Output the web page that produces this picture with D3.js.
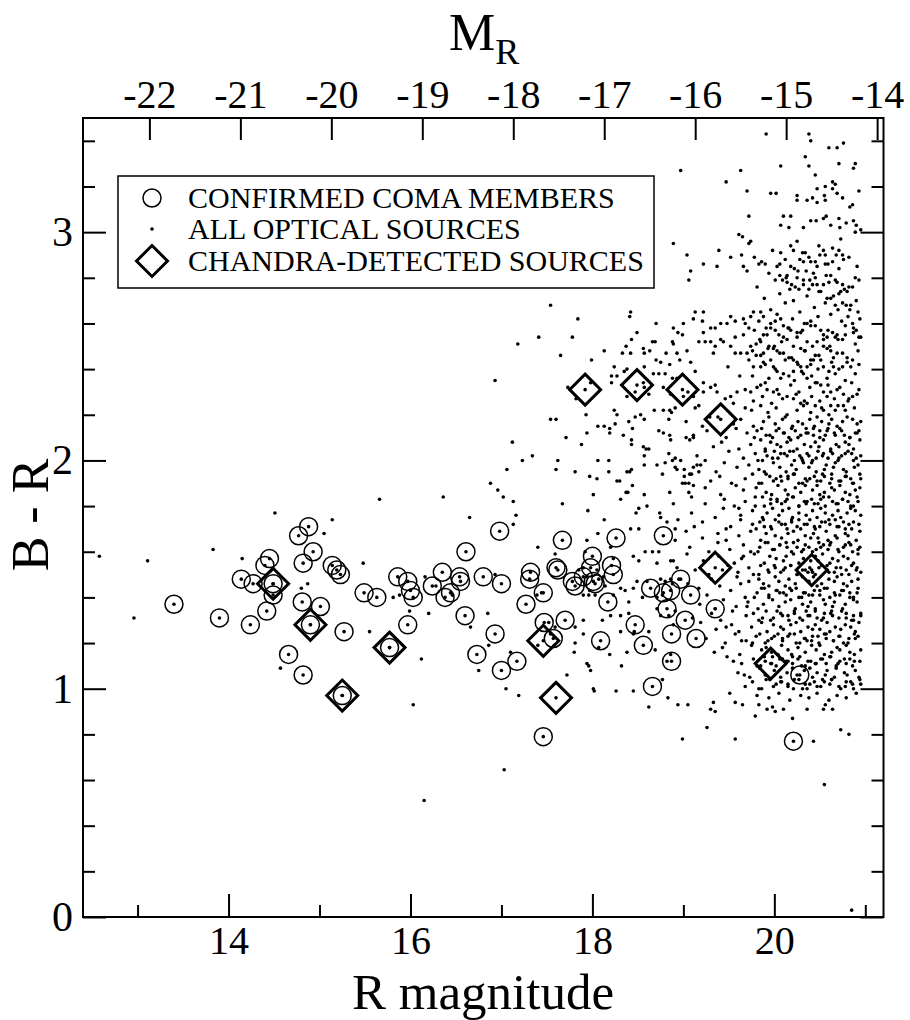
<!DOCTYPE html>
<html>
<head>
<meta charset="utf-8">
<script src="https://cdn.jsdelivr.net/npm/d3@7"></script>
<style>
body { margin: 0; background: #fff; }
text { font-family: "Liberation Serif", "Times New Roman", serif; fill: #000; }
</style>
</head>
<body>
<script>
// axes
var xDomain = [12.4, 21.2];
var yDomain = [0, 3.5];
var distMod = 35.13;
var xMajor = [14, 16, 18, 20];
var xMinor = [13, 15, 17, 19, 21];
var mrTicks = [-22, -21, -20, -19, -18, -17, -16, -15, -14];
var yMajor = [0, 1, 2, 3];
var yMinor = [0.2, 0.4, 0.6, 0.8, 1.2, 1.4, 1.6, 1.8, 2.2, 2.4, 2.6, 2.8, 3.2, 3.4];
var legendLabels = ["CONFIRMED COMA MEMBERS", "ALL OPTICAL SOURCES", "CHANDRA-DETECTED SOURCES"];

// confirmed coma members [R, B-R]
var members = [[13.40,1.37],[13.90,1.31],[14.24,1.28],[14.14,1.48],[14.27,1.46],[14.42,1.34],[14.40,1.54],[14.45,1.57],
  [14.49,1.46],[14.49,1.41],[14.66,1.15],[14.82,1.06],[14.81,1.38],[15.01,1.36],[14.90,1.28],[14.82,1.55],[14.77,1.67],
  [14.88,1.71],[14.93,1.60],[15.14,1.54],[15.19,1.52],[15.23,1.50],[15.27,1.25],[15.25,0.97],[15.49,1.42],[15.63,1.40],
  [15.86,1.49],[15.97,1.47],[16.00,1.43],[16.03,1.40],[15.97,1.28],[15.77,1.18],[16.24,1.45],[16.35,1.51],[16.44,1.42],
  [16.38,1.40],[16.54,1.49],[16.55,1.47],[16.61,1.60],[16.60,1.32],[16.80,1.49],[16.93,1.24],[16.73,1.15],[17.00,1.46],
  [16.98,1.69],[17.00,1.08],[17.17,1.12],[17.27,1.37],[17.32,1.51],[17.31,1.48],[17.46,1.42],[17.47,1.29],[17.57,1.22],
  [17.70,1.30],[17.46,0.79],[17.62,1.52],[17.60,1.53],[17.67,1.65],[17.78,1.47],[17.81,1.45],[17.90,1.49],[17.98,1.53],
  [18.00,1.58],[18.03,1.46],[18.01,1.47],[18.21,1.54],[18.23,1.50],[18.26,1.66],[18.17,1.38],[18.09,1.21],[18.47,1.28],
  [18.56,1.19],[18.78,1.67],[18.64,1.44],[18.78,1.42],[18.86,1.43],[18.82,1.35],[18.87,1.24],[18.87,1.12],[18.66,1.01],
  [18.97,1.48],[19.08,1.41],[19.02,1.30],[19.14,1.22],[19.35,1.35],[20.28,1.06],[20.21,0.77]];

// chandra-detected sources
var chandra = [[14.49,1.46],[14.90,1.28],[15.25,0.97],[15.77,1.18],[17.46,1.21],[17.60,0.96],[17.92,2.31],[18.49,2.33],
  [18.99,2.31],[19.41,2.18],[19.35,1.53],[20.41,1.52],[19.96,1.11]];

// optical sources, bright / sparse part
var opticalBright = [[12.58,1.58],[13.11,1.56],[12.96,1.31],[13.83,1.61],[14.15,1.57],[14.51,1.77],[15.05,1.68],[15.14,1.74],
  [15.66,1.83],[15.48,1.55],[15.55,1.25],[14.80,1.44],[14.87,1.46],[14.57,1.09],[16.03,0.93],[16.15,0.51],[17.03,0.645],
  [17.13,1.82],[17.16,1.76],[17.13,1.72],[16.36,1.84],[16.65,1.75],[17.67,1.81],[17.95,1.78],[18.06,1.68],[18.13,1.74],
  [18.31,1.83],[18.48,1.77],[18.51,1.79],[18.60,1.80],[18.42,1.70],[18.51,1.70],[18.74,1.77],[18.75,1.75],[18.89,1.81],
  [18.94,1.74],[18.82,1.73],[18.91,1.70],[18.91,1.65],[17.40,1.62],[17.59,1.59],[17.94,1.65],[17.92,1.60],[18.20,1.62],
  [18.23,1.57],[18.45,1.58],[18.51,1.56],[18.58,1.60],[18.66,1.60],[18.73,1.60],[18.71,1.55],[18.86,1.56],[18.89,1.56],
  [18.93,1.53],[18.60,1.47],[18.49,1.47],[18.31,1.44],[18.23,1.41],[18.36,1.43],[18.45,1.44],[18.55,1.40],[18.75,1.48],
  [18.80,1.47],[18.86,1.48],[18.88,1.46],[18.95,1.48],[18.71,1.40],[18.77,1.41],[18.82,1.39],[18.71,1.35],[18.75,1.32],
  [18.84,1.32],[18.89,1.28],[18.91,1.34],[18.40,1.38],[18.40,1.33],[18.31,1.32],[18.20,1.32],[18.11,1.30],[18.03,1.41],
  [17.90,1.41],[17.96,1.41],[17.81,1.27],[17.90,1.24],[17.94,1.11],[17.98,1.08],[18.01,1.00],[18.02,0.99],[17.72,1.06],
  [17.80,1.16],[18.07,1.18],[18.19,1.15],[18.31,1.25],[18.38,1.16],[18.45,1.24],[18.46,1.25],[18.62,1.25],[18.69,1.17],
  [18.77,1.04],[18.82,1.12],[18.86,1.15],[18.83,0.96],[18.94,0.93],[18.62,0.92],[18.45,0.99],[18.26,0.99],[18.32,1.10],
  [17.19,0.97],[17.05,1.00],[17.10,1.16],[16.86,1.19],[16.75,1.08],[16.85,1.33],[16.66,1.27],[16.20,1.33],[16.12,1.13],
  [15.99,1.34],[15.81,1.40],[15.88,1.41],[16.16,1.49],[16.28,1.45],[16.46,1.41],[16.93,1.50],[17.39,1.41],[17.44,1.42],
  [17.59,1.27],[17.52,1.29],[17.40,1.19],[17.58,1.19],[17.54,1.24],[17.81,1.20],[17.90,1.30],[17.96,1.10],[18.05,1.52],
  [18.12,1.49],[18.14,1.45],[18.07,1.48],[17.97,1.43],[17.94,1.49],[17.90,1.53],[17.85,1.52]];

// optical sources, upper middle part
var opticalMid = [[17.18,2.51],[17.41,2.54],[17.78,2.54],[18.49,2.56],[18.94,2.56],[18.99,2.55],[16.93,2.35],[17.65,2.46],
  [17.99,2.44],[18.13,2.48],[18.33,2.47],[18.37,2.50],[18.43,2.53],[18.42,2.47],[18.56,2.49],[18.57,2.47],[18.63,2.48],
  [18.66,2.52],[18.69,2.52],[18.70,2.44],[18.75,2.43],[18.81,2.47],[18.85,2.42],[18.88,2.52],[18.89,2.51],[18.93,2.47],
  [18.96,2.44],[19.04,2.48],[19.08,2.43],[19.17,2.52],[19.13,2.39],[18.57,2.41],[18.24,2.41],[18.21,2.37],[18.21,2.34],
  [18.27,2.37],[18.38,2.40],[18.35,2.39],[18.67,2.38],[18.73,2.38],[18.80,2.38],[18.88,2.36],[18.93,2.36],[18.56,2.34],
  [18.57,2.32],[18.62,2.29],[18.47,2.30],[18.38,2.28],[17.98,2.34],[17.73,2.32],[17.82,2.27],[18.78,2.32],[18.86,2.29],
  [19.00,2.28],[19.05,2.30],[19.11,2.28],[19.13,2.23],[19.17,2.24],[18.91,2.23],[18.85,2.22],[18.87,2.21],[18.78,2.22],
  [18.68,2.22],[18.84,2.18],[18.24,2.22],[18.27,2.20],[18.47,2.19],[18.53,2.20],[18.57,2.18],[18.40,2.17],[18.44,2.14],
  [18.25,2.16],[18.19,2.14],[18.19,2.12],[18.13,2.15],[18.06,2.15],[17.93,2.20],[17.54,2.18],[17.60,2.18],[17.94,2.12],
  [18.34,2.11],[18.43,2.09],[18.43,2.07],[18.73,2.13],[18.78,2.12],[18.85,2.11],[18.86,2.09],[19.03,2.10],[19.11,2.10],
  [17.71,2.10],[17.88,2.07],[17.12,2.08],[17.23,2.00],[17.34,2.02],[17.62,2.00],[17.60,1.96],[17.81,1.95],[18.06,2.00],
  [18.18,2.00],[18.18,1.95],[18.05,1.92],[17.97,1.93],[18.27,1.91],[18.30,1.91],[18.38,1.95],[18.41,1.95],[18.43,1.96],
  [18.44,1.89],[18.56,2.06],[18.59,2.05],[18.62,2.05],[18.57,2.02],[18.57,1.98],[18.71,1.98],[18.77,1.94],[18.80,1.99],
  [18.84,2.03],[18.88,2.00],[18.91,2.01],[18.97,2.00],[18.91,1.97],[18.93,1.96],[19.01,1.93],[19.07,1.94],[19.11,1.97],
  [18.99,1.90],[19.02,1.90],[19.06,1.90],[19.11,1.89],[19.15,1.98],[19.17,1.95],[18.85,1.86],[18.57,1.85],[18.37,1.86],
  [18.39,1.86],[18.01,1.85],[16.88,1.90],[16.96,1.87],[17.02,1.84],[17.06,1.96],
  [19.33,2.47],[19.49,2.41],[19.62,2.37],[19.55,2.25],[19.68,2.23],[19.29,2.19],[19.61,1.79],[19.52,1.71],[19.66,1.58],
  [19.43,1.52],[19.63,1.46],[19.70,1.36],[19.47,1.27],[19.64,1.21],[19.55,1.12],[19.67,1.06],[19.51,0.98],[19.65,0.93]];

// optical sources, faint and red (top right)
var opticalTop = [[19.91,3.43],[20.38,3.43],[20.40,3.40],[20.60,3.37],[20.69,3.37],[20.76,3.39],[20.34,3.33],[20.07,3.29],
  [20.38,3.29],[20.71,3.30],[20.89,3.30],[20.87,3.28],[20.45,3.25],[18.97,3.27],[19.63,3.27],[19.47,3.22],[19.70,3.18],
  [19.96,3.17],[20.02,3.17],[20.25,3.16],[20.25,3.14],[20.36,3.14],[20.42,3.15],[20.47,3.13],[20.55,3.16],[20.56,3.14],
  [20.47,3.19],[20.56,3.20],[20.64,3.22],[20.67,3.21],[20.64,3.19],[20.69,3.17],[20.75,3.15],[20.93,3.18],[20.86,3.12],
  [20.83,3.11],[19.72,3.07],[20.10,3.07],[20.18,3.07],[20.07,3.03],[20.16,3.02],[20.32,3.02],[20.40,3.05],[20.46,3.05],
  [20.54,3.06],[20.57,3.07],[20.62,3.03],[20.71,3.06],[20.72,3.02],[20.79,3.04],[20.87,3.05],[20.90,3.03],[20.95,3.01],
  [20.89,3.00],[20.73,2.97],[19.61,2.99],[19.65,2.98],[19.74,2.96],[19.72,2.95],[20.25,2.96],[20.18,2.94],[18.89,2.95],
  [19.04,2.90],[19.22,2.86],[19.08,2.83],[19.06,2.79],[19.37,2.85],[19.39,2.92],[19.52,2.89],[19.64,2.90],[19.66,2.85],
  [19.70,2.83],[19.78,2.89],[19.83,2.86],[19.90,2.86],[19.98,2.92],[20.07,2.91],[20.06,2.86],[20.12,2.88],[20.21,2.92],
  [20.31,2.91],[20.34,2.91],[20.38,2.89],[20.32,2.87],[20.40,2.87],[20.45,2.87],[20.49,2.94],[20.54,2.92],[20.50,2.90],
  [20.56,2.90],[20.64,2.93],[20.68,2.90],[20.71,2.92],[20.75,2.90],[20.76,2.88],[20.64,2.87],[20.56,2.86],[20.47,2.85],
  [20.43,2.82],[20.45,2.80],[20.39,2.79],[20.32,2.79],[20.25,2.80],[20.26,2.83],[20.22,2.84],[20.18,2.85],[20.14,2.81],
  [20.06,2.81],[20.09,2.79],[20.14,2.78],[20.19,2.77],[20.23,2.76],[20.27,2.75],[20.32,2.77],[20.38,2.75],[20.47,2.77],
  [20.51,2.74],[20.54,2.77],[20.62,2.81],[20.67,2.79],[20.69,2.78],[20.75,2.77],[20.77,2.75],[20.86,2.76],[20.80,2.74],
  [20.73,2.74],[20.65,2.72],[20.62,2.71],[20.67,2.68],[20.75,2.69],[20.84,2.68],[20.83,2.66],[20.86,2.60],[20.87,2.56],
  [20.93,2.54],[20.87,2.58],[20.78,2.55],[20.75,2.53],[20.67,2.54],[20.64,2.56],[20.58,2.54],[20.54,2.53],[20.54,2.50],
  [20.62,2.48],[20.65,2.45],[20.75,2.47],[20.80,2.45],[20.86,2.44],[20.84,2.41],[20.75,2.41],[20.65,2.41],[20.60,2.39],
  [20.54,2.41],[20.51,2.44],[20.45,2.46],[20.43,2.44],[20.40,2.42],[20.36,2.41],[20.29,2.41],[20.25,2.43],[20.21,2.44],
  [20.16,2.45],[20.10,2.47],[20.03,2.48],[19.99,2.49],[19.94,2.50],[19.88,2.47],[19.85,2.46],[19.76,2.48],[19.74,2.50],
  [19.80,2.51],[19.85,2.52],[19.88,2.55],[19.91,2.58],[19.96,2.60],[20.01,2.61],[20.07,2.62],[20.10,2.59],[20.16,2.58],
  [20.18,2.57],[20.25,2.56],[20.31,2.57],[20.36,2.60],[20.40,2.61],[20.45,2.59],[20.51,2.57],[20.54,2.55],[20.36,2.52],
  [20.42,2.50],[20.34,2.48],[20.29,2.49],[20.21,2.50],[20.14,2.53],[20.10,2.54],[20.05,2.55],[20.01,2.57],[19.96,2.58],
  [19.88,2.63],[19.85,2.65],[19.77,2.65],[19.74,2.63],[19.66,2.62],[19.68,2.60],[19.72,2.58],[19.66,2.55],[19.57,2.54],
  [19.57,2.61],[19.52,2.63],[19.48,2.60],[19.41,2.60],[19.35,2.58],[19.30,2.58],[19.22,2.56],[19.21,2.61],[19.22,2.65],
  [19.13,2.65],[19.11,2.62],[19.00,2.60],[19.24,2.52],[19.30,2.52],[19.35,2.50],[19.41,2.53],[19.44,2.52],[19.52,2.50],
  [19.57,2.47],[19.63,2.47],[19.70,2.47],[19.72,2.44],[19.77,2.41],[19.85,2.41],[19.90,2.42],[19.96,2.44],[19.99,2.41],
  [20.03,2.39],[20.07,2.36],[20.16,2.37],[20.21,2.39],[20.32,2.38],[20.36,2.36],[20.45,2.34],[20.51,2.33],[20.54,2.30],
  [20.62,2.30],[20.69,2.31],[20.76,2.29],[20.82,2.27],[20.86,2.28],[20.76,2.24],[20.67,2.22],[20.62,2.24],[20.54,2.22],
  [20.45,2.24],[20.36,2.25],[20.29,2.25],[20.21,2.27],[20.14,2.28],[20.05,2.29],[19.99,2.30],[19.92,2.31],[19.85,2.33],
  [19.74,2.30],[19.68,2.31],[19.59,2.30],[19.52,2.28],[19.46,2.27],[19.37,2.30],[19.35,2.33],[19.30,2.32],[19.22,2.34],
  [19.22,2.30],[17.84,2.62],[17.54,2.68],[18.41,2.63],[18.42,2.65],[18.70,2.60],[18.89,2.58]];

// optical sources, faint and red, between the top group and the cloud
var opticalUpper = [[19.86,2.87],[20.03,2.85],[20.28,2.88],[20.59,2.86],[20.82,2.89],[20.91,2.85],
  [19.94,2.82],[20.13,2.80],[20.35,2.83],[20.57,2.81],[20.71,2.84],[20.89,2.80],
  [19.81,2.76],[20.01,2.79],[20.17,2.75],[20.42,2.77],[20.60,2.78],[20.82,2.76],[20.93,2.79],
  [19.89,2.71],[20.06,2.73],[20.21,2.70],[20.36,2.72],[20.49,2.74],[20.58,2.71],[20.71,2.73],[20.90,2.70],
  [19.96,2.66],[20.12,2.69],[20.28,2.65],[20.44,2.67],[20.56,2.69],[20.70,2.66],[20.79,2.68],[20.92,2.65],
  [19.83,2.61],[20.03,2.64],[20.20,2.62],[20.33,2.60],[20.48,2.63],[20.62,2.64],[20.74,2.61],[20.81,2.63],[20.94,2.62],
  [19.78,2.57],[19.92,2.55],[20.15,2.58],[20.29,2.56],[20.40,2.59],[20.59,2.57],[20.69,2.55],[20.78,2.59],[20.90,2.57],
  [19.84,2.53],[20.00,2.50],[20.08,2.52],[20.25,2.54],[20.47,2.52],[20.61,2.50],[20.70,2.53],[20.89,2.51],[20.95,2.54],
  [19.80,2.46],[19.93,2.49],[20.06,2.47],[20.19,2.45],[20.33,2.48],[20.49,2.46],[20.58,2.49],[20.69,2.47],[20.92,2.48],
  [19.88,2.43],[20.01,2.40],[20.12,2.44],[20.26,2.42],[20.40,2.44],[20.48,2.40],[20.63,2.43],[20.71,2.40],[20.80,2.43],[20.93,2.42],
  [19.76,2.37],[19.94,2.36],[20.10,2.38],[20.22,2.35],[20.30,2.39],[20.41,2.37],[20.58,2.36],[20.67,2.38],[20.78,2.35],[20.89,2.38],
  [19.81,2.32],[19.90,2.34],[20.03,2.31],[20.18,2.33],[20.27,2.30],[20.39,2.32],[20.47,2.34],[20.59,2.33],[20.72,2.32],[20.85,2.34],[20.93,2.31],
  [19.77,2.26],[19.87,2.28],[19.97,2.25],[20.09,2.27],[20.24,2.29],[20.33,2.26],[20.41,2.28],[20.50,2.26],[20.58,2.28],[20.66,2.27],[20.81,2.26],[20.91,2.29],
  [19.75,2.22],[19.85,2.24],[19.93,2.21],[20.02,2.23],[20.14,2.20],[20.25,2.22],[20.32,2.24],[20.40,2.21],[20.52,2.23],[20.60,2.20],[20.70,2.24],[20.78,2.22],[20.88,2.23]];

// optical sources, faint cloud (B-R 1.0 to 2.2)
var opticalFaint = [
  [19.03,2.17],[19.21,2.15],[19.38,2.19],[19.55,2.16],[19.63,2.18],[19.77,2.15],[19.88,2.17],[19.94,2.19],[20.01,2.16],[20.09,2.18],[20.12,2.19],[20.20,2.15],[20.26,2.17],[20.31,2.16],[20.39,2.18],[20.44,2.15],[20.47,2.19],[20.52,2.17],[20.60,2.16],[20.63,2.18],[20.69,2.15],[20.75,2.17],[20.80,2.19],[20.86,2.18],[20.91,2.16],[20.95,2.17],
  [19.11,2.11],[19.26,2.13],[19.47,2.10],[19.58,2.14],[19.70,2.12],[19.81,2.13],[19.91,2.11],[19.98,2.10],[20.05,2.14],[20.10,2.12],[20.16,2.10],[20.23,2.13],[20.29,2.11],[20.35,2.14],[20.37,2.12],[20.43,2.14],[20.50,2.10],[20.56,2.11],[20.58,2.13],[20.66,2.12],[20.72,2.14],[20.77,2.11],[20.83,2.10],[20.89,2.12],[20.93,2.13],
  [19.07,2.09],[19.33,2.06],[19.42,2.08],[19.61,2.05],[19.74,2.07],[19.85,2.09],[19.90,2.05],[19.96,2.08],[20.03,2.07],[20.07,2.06],[20.14,2.08],[20.18,2.09],[20.25,2.05],[20.33,2.07],[20.40,2.06],[20.45,2.08],[20.49,2.06],[20.54,2.09],[20.62,2.05],[20.68,2.07],[20.71,2.06],[20.78,2.08],[20.82,2.07],[20.87,2.05],[20.94,2.09],
  [19.15,2.02],[19.24,2.00],[19.50,2.04],[19.66,2.01],[19.79,2.03],[19.87,2.00],[19.92,2.02],[20.00,2.04],[20.04,2.01],[20.11,2.03],[20.17,2.04],[20.22,2.00],[20.28,2.02],[20.30,2.01],[20.36,2.03],[20.42,2.00],[20.48,2.04],[20.53,2.02],[20.59,2.01],[20.64,2.03],[20.70,2.00],[20.74,2.02],[20.81,2.04],[20.85,2.03],[20.90,2.01],
  [19.01,1.96],[19.19,1.98],[19.36,1.95],[19.45,1.99],[19.59,1.97],[19.72,1.98],[19.83,1.96],[19.89,1.95],[19.99,1.99],[20.06,1.97],[20.13,1.95],[20.19,1.98],[20.24,1.96],[20.32,1.99],[20.38,1.97],[20.41,1.99],[20.46,1.95],[20.55,1.96],[20.57,1.98],[20.65,1.97],[20.67,1.99],[20.76,1.96],[20.79,1.95],[20.88,1.97],[20.92,1.98],
  [19.09,1.94],[19.30,1.91],[19.40,1.93],[19.53,1.90],[19.68,1.92],[19.76,1.94],[19.86,1.90],[19.95,1.93],[20.02,1.92],[20.08,1.91],[20.15,1.93],[20.21,1.94],[20.27,1.90],[20.34,1.92],[20.36,1.91],[20.44,1.93],[20.51,1.91],[20.53,1.94],[20.61,1.90],[20.63,1.92],[20.73,1.91],[20.78,1.93],[20.84,1.92],[20.86,1.90],[20.94,1.94],
  [19.06,1.86],[19.24,1.88],[19.41,1.85],[19.58,1.89],[19.66,1.87],[19.80,1.88],[19.91,1.86],[19.97,1.85],[20.04,1.89],[20.12,1.87],[20.15,1.85],[20.23,1.88],[20.29,1.86],[20.34,1.89],[20.42,1.87],[20.47,1.89],[20.50,1.85],[20.55,1.86],[20.63,1.88],[20.66,1.87],[20.72,1.89],[20.78,1.86],[20.83,1.85],[20.89,1.87],[20.94,1.88],
  [19.09,1.84],[19.24,1.81],[19.45,1.83],[19.56,1.80],[19.68,1.82],[19.79,1.84],[19.89,1.80],[19.96,1.83],[20.03,1.82],[20.08,1.81],[20.14,1.83],[20.21,1.84],[20.27,1.80],[20.33,1.82],[20.35,1.81],[20.41,1.83],[20.48,1.81],[20.54,1.84],[20.56,1.80],[20.64,1.82],[20.70,1.81],[20.75,1.83],[20.81,1.82],[20.87,1.80],[20.91,1.84],
  [19.09,1.77],[19.35,1.75],[19.44,1.79],[19.63,1.76],[19.76,1.78],[19.87,1.75],[19.92,1.77],[19.98,1.79],[20.05,1.76],[20.09,1.78],[20.16,1.79],[20.20,1.75],[20.27,1.77],[20.35,1.76],[20.42,1.78],[20.47,1.75],[20.51,1.79],[20.56,1.77],[20.64,1.76],[20.70,1.78],[20.73,1.75],[20.80,1.77],[20.84,1.79],[20.89,1.78],[20.95,1.76],
  [19.12,1.71],[19.21,1.73],[19.47,1.70],[19.63,1.74],[19.76,1.72],[19.84,1.73],[19.89,1.71],[19.97,1.70],[20.01,1.74],[20.08,1.72],[20.14,1.70],[20.19,1.73],[20.25,1.71],[20.27,1.74],[20.33,1.72],[20.39,1.74],[20.45,1.70],[20.50,1.71],[20.56,1.73],[20.61,1.72],[20.67,1.74],[20.71,1.71],[20.78,1.70],[20.82,1.72],[20.87,1.73],
  [19.03,1.69],[19.21,1.66],[19.38,1.68],[19.47,1.65],[19.61,1.67],[19.74,1.69],[19.85,1.65],[19.91,1.68],[20.01,1.67],[20.08,1.66],[20.15,1.68],[20.21,1.69],[20.26,1.65],[20.34,1.67],[20.40,1.66],[20.43,1.68],[20.48,1.66],[20.57,1.69],[20.59,1.65],[20.67,1.67],[20.69,1.66],[20.78,1.68],[20.81,1.67],[20.90,1.65],[20.94,1.69],
  [19.07,1.62],[19.28,1.60],[19.38,1.64],[19.51,1.61],[19.66,1.63],[19.74,1.60],[19.84,1.62],[19.93,1.64],[20.00,1.61],[20.06,1.63],[20.13,1.64],[20.19,1.60],[20.25,1.62],[20.32,1.61],[20.34,1.63],[20.42,1.60],[20.49,1.64],[20.51,1.62],[20.59,1.61],[20.61,1.63],[20.71,1.60],[20.76,1.62],[20.82,1.64],[20.84,1.63],[20.92,1.61],
  [19.04,1.59],[19.22,1.56],[19.39,1.58],[19.56,1.55],[19.64,1.57],[19.78,1.59],[19.89,1.55],[19.95,1.58],[20.02,1.57],[20.10,1.56],[20.13,1.58],[20.21,1.59],[20.27,1.55],[20.32,1.57],[20.40,1.56],[20.45,1.58],[20.48,1.56],[20.53,1.59],[20.61,1.55],[20.64,1.57],[20.70,1.56],[20.76,1.58],[20.81,1.57],[20.87,1.55],[20.92,1.59],
  [19.13,1.52],[19.28,1.50],[19.49,1.54],[19.60,1.51],[19.72,1.53],[19.83,1.50],[19.93,1.52],[20.00,1.54],[20.07,1.51],[20.12,1.53],[20.18,1.54],[20.25,1.50],[20.31,1.52],[20.37,1.51],[20.39,1.53],[20.45,1.50],[20.52,1.54],[20.58,1.52],[20.60,1.51],[20.68,1.53],[20.74,1.50],[20.79,1.52],[20.85,1.54],[20.91,1.53],[20.95,1.51],
  [19.05,1.46],[19.31,1.48],[19.40,1.45],[19.59,1.49],[19.72,1.47],[19.83,1.48],[19.88,1.46],[19.94,1.45],[20.01,1.49],[20.05,1.47],[20.12,1.45],[20.16,1.48],[20.23,1.46],[20.31,1.49],[20.38,1.47],[20.43,1.49],[20.47,1.45],[20.52,1.46],[20.60,1.48],[20.66,1.47],[20.69,1.49],[20.76,1.46],[20.80,1.45],[20.85,1.47],[20.92,1.48],
  [19.17,1.44],[19.26,1.41],[19.52,1.43],[19.68,1.40],[19.81,1.42],[19.89,1.44],[19.94,1.40],[20.02,1.43],[20.06,1.42],[20.13,1.41],[20.19,1.43],[20.24,1.44],[20.30,1.40],[20.32,1.42],[20.38,1.41],[20.44,1.43],[20.50,1.41],[20.55,1.44],[20.61,1.40],[20.66,1.42],[20.72,1.41],[20.76,1.43],[20.83,1.42],[20.87,1.40],[20.92,1.44],
  [19.18,1.37],[19.35,1.35],[19.44,1.39],[19.58,1.36],[19.71,1.38],[19.82,1.35],[19.88,1.37],[19.98,1.39],[20.05,1.36],[20.12,1.38],[20.18,1.39],[20.23,1.35],[20.31,1.37],[20.37,1.36],[20.40,1.38],[20.45,1.35],[20.54,1.39],[20.56,1.37],[20.64,1.36],[20.66,1.38],[20.75,1.35],[20.78,1.37],[20.87,1.39],[20.91,1.38],
  [19.10,1.31],[19.31,1.33],[19.41,1.30],[19.54,1.34],[19.69,1.32],[19.77,1.33],[19.87,1.31],[19.96,1.30],[20.03,1.34],[20.09,1.32],[20.16,1.30],[20.22,1.33],[20.28,1.31],[20.35,1.34],[20.37,1.32],[20.45,1.34],[20.52,1.30],[20.54,1.31],[20.62,1.33],[20.64,1.32],[20.74,1.34],[20.79,1.31],[20.85,1.30],[20.87,1.32],[20.95,1.33],
  [19.19,1.29],[19.36,1.26],[19.53,1.28],[19.61,1.25],[19.75,1.27],[19.86,1.29],[19.92,1.25],[19.99,1.28],[20.07,1.27],[20.10,1.26],[20.18,1.28],[20.24,1.29],[20.29,1.25],[20.37,1.27],[20.42,1.26],[20.45,1.28],[20.50,1.26],[20.58,1.29],[20.61,1.25],[20.67,1.27],[20.73,1.26],[20.78,1.28],[20.84,1.27],[20.89,1.25],[20.93,1.29],
  [19.25,1.22],[19.46,1.20],[19.57,1.24],[19.69,1.21],[19.80,1.23],[19.90,1.20],[19.97,1.22],[20.04,1.24],[20.09,1.21],[20.15,1.23],[20.22,1.24],[20.28,1.20],[20.34,1.22],[20.36,1.21],[20.42,1.23],[20.49,1.20],[20.55,1.24],[20.57,1.22],[20.65,1.21],[20.71,1.23],[20.76,1.20],[20.82,1.22],[20.88,1.24],[20.92,1.23],
  [19.34,1.16],[19.43,1.18],[19.62,1.15],[19.75,1.19],[19.86,1.17],[19.91,1.18],[19.97,1.16],[20.04,1.15],[20.08,1.19],[20.15,1.17],[20.19,1.15],[20.26,1.18],[20.34,1.16],[20.41,1.19],[20.46,1.17],[20.50,1.19],[20.55,1.15],[20.63,1.16],[20.69,1.18],[20.72,1.17],[20.79,1.19],[20.83,1.16],[20.88,1.15],[20.95,1.17],
  [19.48,1.14],[19.64,1.11],[19.77,1.13],[19.85,1.10],[19.90,1.12],[19.98,1.14],[20.02,1.10],[20.09,1.13],[20.15,1.12],[20.20,1.11],[20.26,1.13],[20.28,1.14],[20.34,1.10],[20.40,1.12],[20.46,1.11],[20.51,1.13],[20.57,1.11],[20.62,1.14],[20.68,1.10],[20.72,1.12],[20.79,1.11],[20.83,1.13],[20.88,1.12],
  [19.60,1.07],[19.73,1.05],[19.84,1.09],[19.90,1.06],[20.00,1.08],[20.07,1.05],[20.14,1.07],[20.20,1.09],[20.25,1.06],[20.33,1.08],[20.39,1.09],[20.42,1.05],[20.47,1.07],[20.56,1.06],[20.58,1.08],[20.66,1.05],[20.68,1.09],[20.77,1.07],[20.80,1.06],[20.89,1.08],[20.93,1.05],
  [19.68,1.01],[19.76,1.03],[19.86,1.00],[19.95,1.04],[20.02,1.02],[20.08,1.03],[20.15,1.01],[20.21,1.00],[20.27,1.04],[20.34,1.02],[20.36,1.00],[20.44,1.03],[20.51,1.01],[20.53,1.04],[20.61,1.02],[20.63,1.04],[20.73,1.00],[20.78,1.01],[20.84,1.03],[20.86,1.02],[20.94,1.04],
  [19.81,0.97],[19.94,0.96],[20.05,0.98],[20.17,0.95],[20.29,0.97],[20.38,0.96],[20.47,0.98],[20.60,0.95],[20.69,0.97],[20.79,0.96],[20.90,0.98]];

// optical sources, faint cloud, densest columns (R > 19.7)
var opticalDense = [
  [19.78,2.10],[19.86,2.14],[19.95,2.11],[20.02,2.13],[20.11,2.12],[20.19,2.14],[20.26,2.10],[20.35,2.12],[20.43,2.11],[20.50,2.13],[20.59,2.14],[20.67,2.11],[20.74,2.13],[20.83,2.10],[20.91,2.12],
  [19.82,2.00],[19.90,2.04],[19.98,2.01],[20.07,2.03],[20.14,2.02],[20.21,2.04],[20.31,2.00],[20.38,2.02],[20.46,2.01],[20.54,2.03],[20.62,2.04],[20.71,2.01],[20.78,2.03],[20.87,2.00],[20.95,2.02],
  [19.83,1.90],[19.91,1.94],[19.99,1.91],[20.07,1.93],[20.15,1.92],[20.22,1.94],[20.31,1.90],[20.39,1.92],[20.47,1.91],[20.55,1.93],[20.63,1.94],[20.71,1.91],[20.79,1.93],[20.87,1.90],[20.95,1.92],
  [19.79,1.80],[19.87,1.84],[19.96,1.81],[20.03,1.83],[20.12,1.82],[20.20,1.84],[20.27,1.80],[20.36,1.82],[20.44,1.81],[20.51,1.83],[20.60,1.84],[20.68,1.81],[20.75,1.83],[20.84,1.80],[20.92,1.82],
  [19.80,1.70],[19.88,1.74],[19.96,1.71],[20.05,1.73],[20.12,1.72],[20.19,1.74],[20.29,1.70],[20.36,1.72],[20.44,1.71],[20.52,1.73],[20.60,1.74],[20.69,1.71],[20.76,1.73],[20.85,1.70],[20.93,1.72],
  [19.82,1.60],[19.90,1.64],[19.98,1.61],[20.06,1.63],[20.14,1.62],[20.21,1.64],[20.30,1.60],[20.38,1.62],[20.46,1.61],[20.54,1.63],[20.62,1.64],[20.70,1.61],[20.78,1.63],[20.86,1.60],[20.94,1.62],
  [19.77,1.50],[19.85,1.54],[19.94,1.51],[20.01,1.53],[20.10,1.52],[20.18,1.54],[20.25,1.50],[20.34,1.52],[20.42,1.51],[20.49,1.53],[20.58,1.54],[20.66,1.51],[20.73,1.53],[20.82,1.50],[20.90,1.52],
  [19.78,1.40],[19.86,1.44],[19.94,1.41],[20.03,1.43],[20.10,1.42],[20.17,1.44],[20.27,1.40],[20.34,1.42],[20.42,1.41],[20.50,1.43],[20.58,1.44],[20.67,1.41],[20.74,1.43],[20.83,1.40],[20.91,1.42],
  [19.83,1.30],[19.91,1.34],[19.99,1.31],[20.07,1.33],[20.15,1.32],[20.22,1.34],[20.31,1.30],[20.39,1.32],[20.47,1.31],[20.55,1.33],[20.63,1.34],[20.71,1.31],[20.79,1.33],[20.87,1.30],[20.95,1.32],
  [19.76,1.20],[19.84,1.24],[19.93,1.21],[20.00,1.23],[20.09,1.22],[20.17,1.24],[20.24,1.20],[20.33,1.22],[20.41,1.21],[20.48,1.23],[20.57,1.24],[20.65,1.21],[20.72,1.23],[20.81,1.20],[20.89,1.22],
  [19.81,1.10],[19.89,1.14],[19.97,1.11],[20.06,1.13],[20.13,1.12],[20.20,1.14],[20.30,1.10],[20.37,1.12],[20.45,1.11],[20.53,1.13],[20.61,1.14],[20.70,1.11],[20.77,1.13],[20.86,1.10],[20.94,1.12],
  [19.83,1.00],[19.91,1.04],[19.99,1.01],[20.07,1.03],[20.15,1.02],[20.22,1.04],[20.31,1.00],[20.39,1.02],[20.47,1.01],[20.55,1.03],[20.63,1.04],[20.71,1.01],[20.79,1.03],[20.87,1.00],[20.95,1.02]];

// optical sources below the cloud
var opticalLow = [[19.05,0.93],[19.33,0.94],[19.35,0.90],[19.30,0.91],[19.57,0.94],[19.26,0.83],[18.99,0.78],[19.57,0.78],
  [19.79,0.88],[19.83,0.93],[19.92,0.91],[19.98,0.92],[20.01,0.90],[20.10,0.91],[20.20,0.87],[20.36,0.91],[20.43,0.77],
  [20.54,0.91],[20.64,0.91],[20.73,0.82],[20.82,0.80],[20.55,0.58],[20.56,0.93],[20.85,0.03]];

var width = 910, height = 1020;
var plot = {left: 83, right: 883.5, top: 118, bottom: 917};

var svg = d3.select("body").append("svg").attr("width", width).attr("height", height);

var x = d3.scaleLinear().domain(xDomain).range([plot.left, plot.right]);
var y = d3.scaleLinear().domain(yDomain).range([plot.bottom, plot.top]);
var xTop = d3.scaleLinear().domain([xDomain[0] - distMod, xDomain[1] - distMod]).range([plot.left, plot.right]);

var diamond = function(s){ return "M0," + (-s) + "L" + s + ",0L0," + s + "L" + (-s) + ",0Z"; };

// all optical sources (members and chandra sources are optical sources too)
var allDots = opticalBright.concat(opticalMid, opticalTop, opticalUpper, opticalFaint, opticalDense, opticalLow, members, chandra);

svg.append("g").selectAll("circle")
    .data(allDots)
    .enter().append("circle")
    .attr("cx", function(d){ return x(d[0]); })
    .attr("cy", function(d){ return y(d[1]); })
    .attr("r", 1.8)
    .attr("fill", "#000");

svg.append("g").selectAll("circle")
    .data(members)
    .enter().append("circle")
    .attr("cx", function(d){ return x(d[0]); })
    .attr("cy", function(d){ return y(d[1]); })
    .attr("r", 9)
    .attr("fill", "none")
    .attr("stroke", "#000")
    .attr("stroke-width", 1.5);

svg.append("g").selectAll("path")
    .data(chandra)
    .enter().append("path")
    .attr("transform", function(d){ return "translate(" + x(d[0]) + "," + y(d[1]) + ")"; })
    .attr("d", diamond(15.5))
    .attr("fill", "none")
    .attr("stroke", "#000")
    .attr("stroke-width", 3);

// axes
function styleAxis(g, size){
    g.select(".domain").remove();
    g.attr("font-family", null).attr("font-size", size);
    g.selectAll("line").attr("stroke", "#000").attr("stroke-width", 2);
    g.selectAll("text").attr("fill", "#000");
}
var fmt = function(d){ return String(d); };

svg.append("g").attr("transform", "translate(0," + plot.bottom + ")")
    .call(d3.axisBottom(x).tickValues(xMajor).tickSize(-23).tickSizeOuter(0).tickPadding(9).tickFormat(fmt))
    .call(styleAxis, 40);
svg.append("g").attr("transform", "translate(0," + plot.bottom + ")")
    .call(d3.axisBottom(x).tickValues(xMinor).tickSize(-12).tickSizeOuter(0).tickFormat(""))
    .call(styleAxis, 40);

svg.append("g").attr("transform", "translate(0," + plot.top + ")")
    .call(d3.axisTop(xTop).tickValues(mrTicks).tickSize(-22).tickSizeOuter(0).tickPadding(10).tickFormat(fmt))
    .call(styleAxis, 40);

svg.append("g").attr("transform", "translate(" + plot.left + ",0)")
    .call(d3.axisLeft(y).tickValues(yMajor).tickSize(-23).tickSizeOuter(0).tickPadding(10).tickFormat(fmt))
    .call(styleAxis, 42);
svg.append("g").attr("transform", "translate(" + plot.left + ",0)")
    .call(d3.axisLeft(y).tickValues(yMinor).tickSize(-12).tickSizeOuter(0).tickFormat(""))
    .call(styleAxis, 42);
svg.append("g").attr("transform", "translate(" + plot.right + ",0)")
    .call(d3.axisRight(y).tickValues(yMajor).tickSize(-23).tickSizeOuter(0).tickFormat(""))
    .call(styleAxis, 42);
svg.append("g").attr("transform", "translate(" + plot.right + ",0)")
    .call(d3.axisRight(y).tickValues(yMinor).tickSize(-12).tickSizeOuter(0).tickFormat(""))
    .call(styleAxis, 42);

svg.append("rect")
    .attr("x", plot.left).attr("y", plot.top)
    .attr("width", plot.right - plot.left).attr("height", plot.bottom - plot.top)
    .attr("fill", "none").attr("stroke", "#000").attr("stroke-width", 2);

// titles
svg.append("text")
    .attr("x", 483).attr("y", 1008.5)
    .attr("text-anchor", "middle").attr("font-size", 51)
    .text("R magnitude");

svg.append("text")
    .attr("transform", "translate(48,515) rotate(-90)")
    .attr("text-anchor", "middle").attr("font-size", 52)
    .text("B - R");

var mr = svg.append("text").attr("x", 449).attr("y", 50).attr("font-size", 52);
mr.append("tspan").text("M");
mr.append("tspan").attr("font-size", 36).attr("dy", 14).text("R");

// legend
var legend = svg.append("g");
legend.append("rect")
    .attr("x", 118).attr("y", 176).attr("width", 536).attr("height", 112)
    .attr("fill", "#fff").attr("stroke", "#000").attr("stroke-width", 1.5);
var rowY = [198, 229, 261];
legend.append("circle").attr("cx", 152).attr("cy", rowY[0]).attr("r", 9)
    .attr("fill", "none").attr("stroke", "#000").attr("stroke-width", 1.5);
legend.append("circle").attr("cx", 152).attr("cy", rowY[1]).attr("r", 1.8).attr("fill", "#000");
legend.append("path").attr("transform", "translate(152," + rowY[2] + ")").attr("d", diamond(15.5))
    .attr("fill", "none").attr("stroke", "#000").attr("stroke-width", 3);
legend.selectAll("text.leg")
    .data(legendLabels)
    .enter().append("text")
    .attr("class", "leg")
    .attr("x", 188)
    .attr("y", function(d, i){ return rowY[i] + 10; })
    .attr("font-size", 30)
    .text(function(d){ return d; });
</script>
</body>
</html>
